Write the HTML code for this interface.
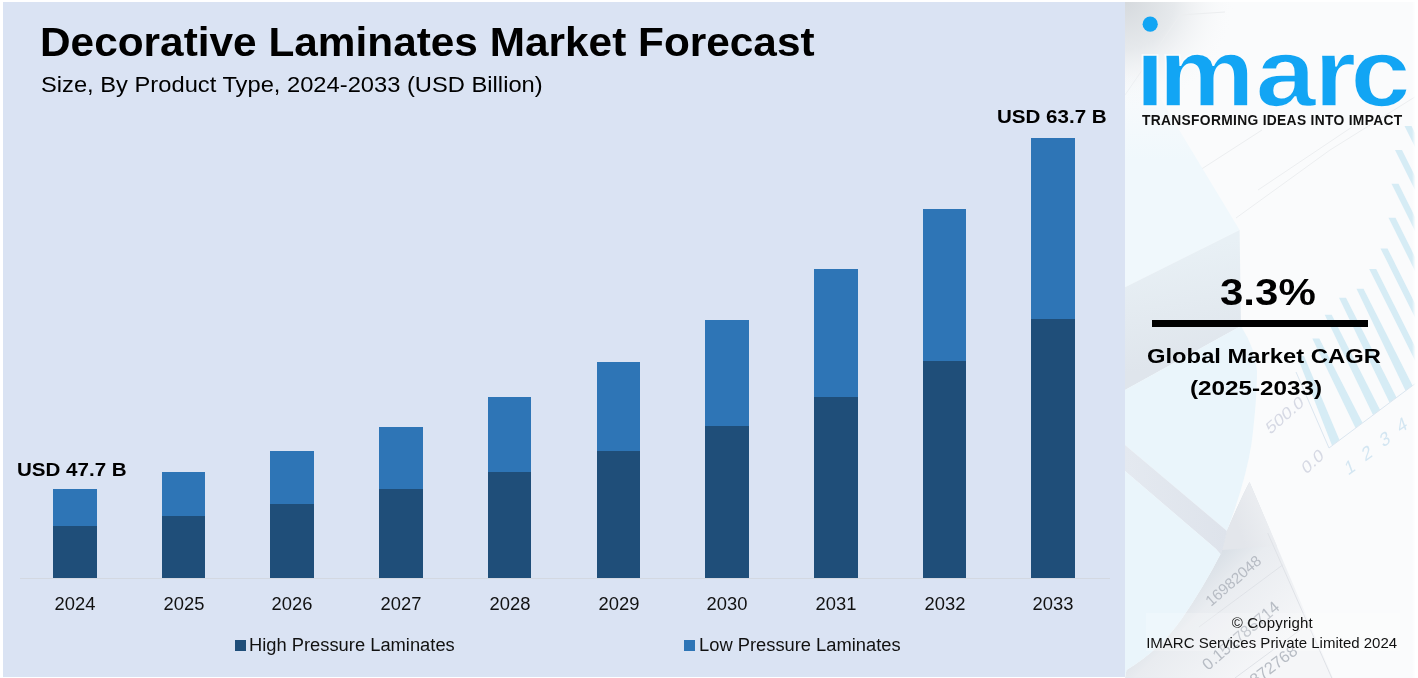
<!DOCTYPE html>
<html><head><meta charset="utf-8"><title>Decorative Laminates Market Forecast</title>
<style>
html,body{margin:0;padding:0;background:#fff;}
body{width:1418px;height:678px;position:relative;overflow:hidden;font-family:"Liberation Sans",sans-serif;color:#000;}
#chart{position:absolute;left:3px;top:2px;width:1122px;height:675px;background:#dae3f3;}
#side{position:absolute;left:1125px;top:0;width:293px;height:678px;background:#fafbfc;overflow:hidden;}
.abs{position:absolute;white-space:nowrap;}
.b{position:absolute;}
.l{background:#2e75b6;}
.d{background:#1f4e79;}
.yr{position:absolute;top:593.5px;width:80px;text-align:center;font-size:18px;line-height:20px;color:#111;transform:scaleX(1.02);}
#title{left:40.3px;top:19px;font-size:40px;line-height:46px;font-weight:bold;transform-origin:0 0;transform:scaleX(1.059);}
#sub{left:40.6px;top:73px;font-size:21.6px;line-height:24px;transform-origin:0 0;transform:scaleX(1.098);}
.val{font-weight:bold;font-size:19px;line-height:22px;transform-origin:0 0;transform:scaleX(1.082);}
.lg{font-size:18px;line-height:20px;color:#111;transform-origin:0 0;transform:scaleX(1.018);}
.sq{position:absolute;width:11px;height:11px;}
</style></head><body>
<div id="chart"></div>
<div class="abs" id="title">Decorative Laminates Market Forecast</div>
<div class="abs" id="sub">Size, By Product Type, 2024-2033 (USD Billion)</div>
<div class="abs" style="left:20px;top:578px;width:1090px;height:1px;background:#d3d8e1"></div>
<div class="b l" style="left:53px;width:44px;top:489px;height:37px"></div><div class="b d" style="left:53px;width:44px;top:526px;height:52px"></div>
<div class="yr" style="left:35.0px">2024</div>
<div class="b l" style="left:162px;width:43px;top:472px;height:44px"></div><div class="b d" style="left:162px;width:43px;top:516px;height:62px"></div>
<div class="yr" style="left:143.5px">2025</div>
<div class="b l" style="left:270px;width:44px;top:451px;height:53px"></div><div class="b d" style="left:270px;width:44px;top:504px;height:74px"></div>
<div class="yr" style="left:252.0px">2026</div>
<div class="b l" style="left:379px;width:44px;top:427px;height:62px"></div><div class="b d" style="left:379px;width:44px;top:489px;height:89px"></div>
<div class="yr" style="left:361.0px">2027</div>
<div class="b l" style="left:488px;width:43px;top:397px;height:75px"></div><div class="b d" style="left:488px;width:43px;top:472px;height:106px"></div>
<div class="yr" style="left:469.5px">2028</div>
<div class="b l" style="left:597px;width:43px;top:362px;height:89px"></div><div class="b d" style="left:597px;width:43px;top:451px;height:127px"></div>
<div class="yr" style="left:578.5px">2029</div>
<div class="b l" style="left:705px;width:44px;top:320px;height:106px"></div><div class="b d" style="left:705px;width:44px;top:426px;height:152px"></div>
<div class="yr" style="left:687.0px">2030</div>
<div class="b l" style="left:814px;width:44px;top:269px;height:128px"></div><div class="b d" style="left:814px;width:44px;top:397px;height:181px"></div>
<div class="yr" style="left:796.0px">2031</div>
<div class="b l" style="left:923px;width:43px;top:209px;height:152px"></div><div class="b d" style="left:923px;width:43px;top:361px;height:217px"></div>
<div class="yr" style="left:904.5px">2032</div>
<div class="b l" style="left:1031px;width:44px;top:138px;height:181px"></div><div class="b d" style="left:1031px;width:44px;top:319px;height:259px"></div>
<div class="yr" style="left:1013.0px">2033</div>

<div class="abs val" id="v1" style="left:17.2px;top:458.7px">USD 47.7 B</div>
<div class="abs val" id="v2" style="left:996.6px;top:105.8px">USD 63.7 B</div>
<div class="sq d" style="left:235px;top:640px"></div>
<div class="abs lg" id="lg1" style="left:249px;top:635px">High Pressure Laminates</div>
<div class="sq l" style="left:684px;top:640px"></div>
<div class="abs lg" id="lg2" style="left:699.2px;top:635px">Low Pressure Laminates</div>
<div id="side">
<svg class="abs" style="left:0;top:0" width="293" height="678" viewBox="1125 0 293 678" font-family="Liberation Sans, sans-serif">
<defs>
<radialGradient id="gcorner" cx="1125" cy="0" r="110" gradientUnits="userSpaceOnUse"><stop offset="0" stop-color="#d5d9dd"/><stop offset="0.45" stop-color="#e6e9ec"/><stop offset="1" stop-color="#fafbfc" stop-opacity="0"/></radialGradient>
<linearGradient id="gface" x1="1180" y1="250" x2="1200" y2="360" gradientUnits="userSpaceOnUse"><stop offset="0" stop-color="#e8f0f5"/><stop offset="1" stop-color="#dfe5ec"/></linearGradient>
<linearGradient id="gband" x1="0" y1="0" x2="1" y2="0"><stop offset="0" stop-color="#e4e9f0"/><stop offset="1" stop-color="#dee3eb"/></linearGradient>
<linearGradient id="gpaper" x1="1205" y1="560" x2="1285" y2="640" gradientUnits="userSpaceOnUse"><stop offset="0" stop-color="#d6dde4"/><stop offset="0.3" stop-color="#e9ecf0"/><stop offset="1" stop-color="#f5f6f8"/></linearGradient>
<linearGradient id="gtri" x1="1235" y1="520" x2="1275" y2="505" gradientUnits="userSpaceOnUse"><stop offset="0" stop-color="#e3e6eb"/><stop offset="1" stop-color="#eef0f3"/></linearGradient>
<linearGradient id="gright" x1="1412" y1="0" x2="1418" y2="0" gradientUnits="userSpaceOnUse"><stop offset="0" stop-color="#fff" stop-opacity="0"/><stop offset="0.6" stop-color="#fff"/></linearGradient>
<linearGradient id="gtop" x1="0" y1="70" x2="0" y2="160" gradientUnits="userSpaceOnUse"><stop offset="0" stop-color="#f0f8fc" stop-opacity="0"/><stop offset="1" stop-color="#f0f8fc"/></linearGradient>
</defs>
<rect x="1125" y="0" width="293" height="678" fill="#fafbfc"/>
<!-- top-left grey corner -->
<rect x="1125" y="0" width="130" height="130" fill="url(#gcorner)"/>
<!-- faint lines -->
<g stroke="#eceef0" stroke-width="1" fill="none">
<path d="M1125,95 L1180,15 L1225,12"/>
<path d="M1258,190 L1352,127"/>
<path d="M1200,170 L1262,130"/>
<path d="M1236,218 L1330,150 L1418,95"/>
</g>
<!-- box top face -->
<polygon points="1125,60 1150,80 1178,128 1239.6,230 1125,287.2" fill="url(#gtop)"/>
<!-- box front face -->
<polygon points="1125,287.2 1239.6,230 1241,326 1125,390" fill="url(#gface)"/>
<!-- light blue plane -->
<path d="M1125,390 L1241,326 Q1256,350 1257,371 Q1257,400 1251.6,443 Q1246,480 1227,531 L1125,444.9 Z" fill="#eaf5fb"/>
<!-- paper (right of curl), grey shaded -->
<path d="M1249.5,482 L1333,678 L1125,678 L1126.5,670 Q1160,650 1182,618.5 Q1203,588 1220.6,554 L1227,531 Q1240,500 1249.5,482 Z" fill="url(#gpaper)"/>
<path d="M1249.5,482 L1277,546 L1222,550 L1227,531 Q1240,500 1249.5,482 Z" fill="url(#gtri)"/>
<!-- grey band -->
<polygon points="1125,444.9 1227,531 1221,555 1216,549 1125,471" fill="url(#gband)"/>
<!-- lower light blue -->
<path d="M1125,471 L1216,549 L1220.6,554 Q1203,588 1182,618.5 Q1160,650 1126.5,670 L1125,678 Z" fill="#eaf5fb"/>
<!-- paper table lines -->
<g stroke="#dfe2e7" stroke-width="1" fill="none">
<path d="M1199,627 L1282.6,565"/>
<path d="M1267.7,533 L1331.8,678"/>
<path d="M1235,678 L1300,630"/>
</g>
<!-- stripes -->
<g fill="#d6ecf5">
<polygon points="1404.5,126 1411.5,126 1418,139 1418,153"/>
<polygon points="1395,150 1402,150 1418,182 1418,196"/>
<polygon points="1391.5,183.7 1398.5,183.7 1418,223 1418,237"/>
<polygon points="1388.5,217.7 1395.5,217.7 1418,263 1418,277"/>
<polygon points="1380.5,248.4 1387.5,248.4 1418,309.6 1418,323.6"/>
<polygon points="1369.2,269 1376.2,269 1418,352.6 1418,366.6"/>
<polygon points="1356.5,288.8 1363.5,288.8 1412.5,385.5 1405.5,390.7"/>
<polygon points="1339,297.7 1346,297.7 1396.5,397.4 1389.5,402.6"/>
<polygon points="1324.7,314.8 1331.7,314.8 1380,409.7 1373,414.9"/>
<polygon points="1312.3,338.4 1319.3,338.4 1362.5,422.8 1355.5,428"/>
<polygon points="1297,356 1304,356 1339.5,440 1332,445.5"/>
</g>
<!-- chart axis lines -->
<path d="M1296,372 L1329,448 L1416,383" fill="none" stroke="#dbe6f0" stroke-width="1"/>
<!-- faint picture text -->
<g fill="#d6d9e4" font-size="16">
<text transform="translate(1270 435) rotate(-41) scale(1.15 1) skewX(-12)">500.0</text>
<text transform="translate(1306 475) rotate(-43) scale(1.15 1) skewX(-12)">0.0</text>
</g>
<g fill="#d3e6f2" font-size="18" text-anchor="middle">
<text transform="translate(1352 473) rotate(-35) skewX(-15)">1</text>
<text transform="translate(1369 459) rotate(-35) skewX(-15)">2</text>
<text transform="translate(1387 445) rotate(-35) skewX(-15)">3</text>
<text transform="translate(1404 431) rotate(-35) skewX(-15)">4</text>
</g>
<g fill="#b7bcc4" font-size="15.3">
<text transform="translate(1211 607) rotate(-41)">16982048</text>
<text transform="translate(1208 671) rotate(-40.5)" font-size="16.4">0.151785714</text>
<text transform="translate(1255 686) rotate(-37)" font-size="16.4">872768</text>
</g>
<!-- soft white plate behind copyright -->
<rect x="1146" y="613" width="254" height="38" fill="#fff" opacity="0.22"/>
<!-- white fades at edges -->
<rect x="1125" y="0" width="293" height="2" fill="#fff"/>
<rect x="1412" y="0" width="6" height="678" fill="url(#gright)"/>
</svg>

</div>
<svg class="abs" style="left:1125px;top:0" width="293" height="140" viewBox="1125 0 293 140">
<defs><clipPath id="cp"><rect x="1125" y="51" width="293" height="70"/></clipPath></defs>
<circle cx="1150.2" cy="24.2" r="7.6" fill="#12a5f4"/>
<g clip-path="url(#cp)"><text id="logo" transform="translate(0 105.9) scale(1.12 1)" x="1013.4 1034.2 1120.9 1173.3 1205.5" font-family="Liberation Sans, sans-serif" font-weight="bold" font-size="97" fill="#12a5f4" stroke="#fafbfc" stroke-width="1.6">imarc</text></g>
</svg>
<div class="abs" id="tag" style="left:1142px;top:113.2px;font-size:13.8px;line-height:16px;font-weight:bold;color:#111;letter-spacing:0.32px">TRANSFORMING IDEAS INTO IMPACT</div>
<div class="abs" id="pct" style="left:1220.3px;top:272.6px;font-size:37px;line-height:40px;font-weight:bold;transform-origin:0 0;transform:scaleX(1.135);">3.3%</div>
<div class="abs" style="left:1151.5px;top:320px;width:216.5px;height:7px;background:#000"></div>
<div class="abs" id="cagr1" style="left:1146.5px;top:343.5px;font-size:21px;line-height:24px;font-weight:bold;transform-origin:0 0;transform:scaleX(1.132);">Global Market CAGR</div>
<div class="abs" id="cagr2" style="left:1190.2px;top:376px;font-size:21px;line-height:24px;font-weight:bold;transform-origin:0 0;transform:scaleX(1.155);">(2025-2033)</div>
<div class="abs" id="cp1" style="left:1231.8px;top:613.5px;letter-spacing:0.15px;font-size:15px;line-height:18px;color:#111">© Copyright</div>
<div class="abs" id="cp2" style="left:1146.2px;top:634px;font-size:15px;line-height:18px;color:#111">IMARC Services Private Limited 2024</div>
</body></html>
